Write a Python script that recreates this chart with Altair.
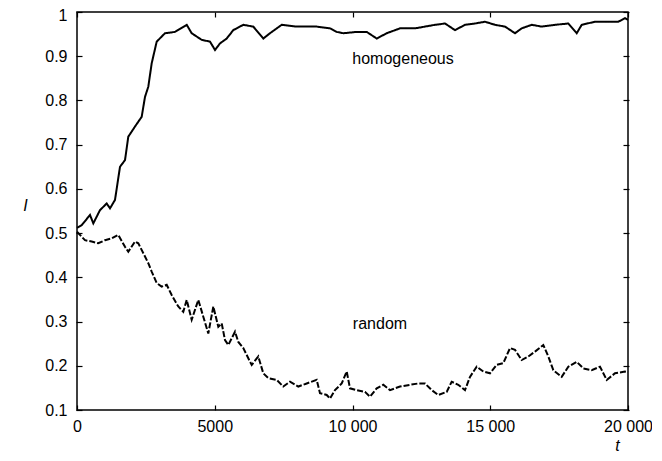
import altair as alt
import pandas as pd

# homogeneous series (t, I)
h_t = [0, 171, 472, 592, 835, 1078, 1198, 1379, 1561, 1742, 1862, 2105, 2348, 2468,
       2588, 2711, 2893, 3194, 3557, 3982, 4163, 4526, 4828, 5010, 5191, 5434, 5673,
       6036, 6399, 6762, 7006, 7430, 7975, 8701, 9183, 9427, 9666, 10153, 10516,
       10879, 11242, 11724, 12269, 12632, 12995, 13358, 13721, 14084, 14447, 14810,
       15173, 15535, 15898, 16142, 16505, 16868, 17350, 17833, 18138, 18320, 18802,
       19285, 19648, 19891, 20000]
h_I = [0.512, 0.518, 0.541, 0.522, 0.552, 0.567, 0.556, 0.575, 0.650, 0.665, 0.718,
       0.741, 0.763, 0.808, 0.831, 0.884, 0.933, 0.952, 0.955, 0.971, 0.952, 0.937,
       0.933, 0.914, 0.929, 0.940, 0.959, 0.971, 0.967, 0.940, 0.952, 0.971, 0.967,
       0.967, 0.963, 0.955, 0.952, 0.955, 0.955, 0.940, 0.952, 0.963, 0.963, 0.967,
       0.971, 0.974, 0.959, 0.971, 0.974, 0.978, 0.971, 0.967, 0.952, 0.963, 0.971,
       0.967, 0.971, 0.974, 0.952, 0.971, 0.978, 0.978, 0.978, 0.986, 0.982]

# random series (t, I)
r_t = [0, 290, 534, 773, 1016, 1260, 1499, 1742, 1862, 2105, 2225, 2468, 2588, 2711,
       2893, 3074, 3256, 3437, 3677, 3858, 3982, 4163, 4403, 4584, 4766, 4948, 5129,
       5252, 5372, 5492, 5735, 5855, 6036, 6218, 6341, 6581, 6762, 6944, 7249, 7488,
       7731, 8033, 8338, 8701, 8820, 9064, 9183, 9365, 9608, 9790, 9909, 10153, 10454,
       10635, 10879, 11118, 11361, 11724, 12087, 12389, 12632, 12875, 13114, 13419,
       13600, 13840, 14084, 14265, 14508, 14748, 14991, 15234, 15474, 15717, 15898,
       16142, 16381, 16625, 16926, 17108, 17289, 17594, 17833, 18138, 18380, 18682,
       18984, 19227, 19528, 19891, 20000]
r_I = [0.503, 0.484, 0.481, 0.477, 0.484, 0.488, 0.496, 0.469, 0.458, 0.481, 0.477,
       0.447, 0.432, 0.413, 0.387, 0.379, 0.383, 0.360, 0.334, 0.322, 0.349, 0.304,
       0.349, 0.311, 0.273, 0.334, 0.288, 0.296, 0.258, 0.247, 0.277, 0.254, 0.240,
       0.217, 0.202, 0.221, 0.183, 0.172, 0.168, 0.153, 0.164, 0.153, 0.160, 0.168,
       0.138, 0.134, 0.126, 0.145, 0.160, 0.187, 0.149, 0.145, 0.141, 0.130, 0.149,
       0.157, 0.145, 0.153, 0.157, 0.160, 0.160, 0.145, 0.134, 0.141, 0.164, 0.157,
       0.145, 0.175, 0.198, 0.187, 0.183, 0.202, 0.206, 0.240, 0.236, 0.213, 0.221,
       0.232, 0.247, 0.221, 0.190, 0.175, 0.198, 0.209, 0.194, 0.190, 0.198, 0.168,
       0.183, 0.187, 0.186]

label_text = ["homogeneous", "random"]
label_t = [11834, 10998]
label_I = [0.894, 0.294]

x_ticks = [0, 5000, 10000, 15000, 20000]
y_ticks = [0.1, 0.2, 0.3, 0.4, 0.5, 0.6, 0.7, 0.8, 0.9, 1.0]

df = pd.concat([
    pd.DataFrame({"t": h_t, "I": h_I, "series": "homogeneous"}),
    pd.DataFrame({"t": r_t, "I": r_I, "series": "random"}),
])
lab = pd.DataFrame({"text": label_text, "t": label_t, "I": label_I})

FONT = "Liberation Sans"
xscale = alt.Scale(domain=[0, 20000], nice=False, zero=False)
yscale = alt.Scale(domain=[0.1, 1.0], nice=False, zero=False)

lines = alt.Chart(df).mark_line(color="black", strokeWidth=2).encode(
    x=alt.X("t:Q", scale=xscale, axis=alt.Axis(
        orient="bottom", values=x_ticks, offset=-5, tickSize=5, domain=False,
        labelPadding=8, labelFlush=False, labelOverlap=False,
        labelExpr="datum.value < 10000 ? format(datum.value, 'd') : replace(format(datum.value, ','), ',', ' ')",
        title="t", titleFontStyle="italic", titleFontWeight="normal", titleFontSize=16,
        titleX=540, titleY=40, titleAlign="center", titleBaseline="middle",
    )),
    y=alt.Y("I:Q", scale=yscale, axis=alt.Axis(
        orient="left", values=y_ticks, offset=-5, tickSize=6, domain=False,
        labelPadding=9, labelFlush=False, labelOverlap=False, format=".1~f",
        labelOffset={"condition": {"test": "datum.value >= 0.99", "value": 3}, "value": 0},
        title="I", titleFontStyle="italic", titleFontWeight="normal", titleFontSize=16,
        titleAngle=0, titleX=-57, titleY=193, titleAlign="center", titleBaseline="middle",
    )),
    strokeDash=alt.StrokeDash("series:N", scale=alt.Scale(
        domain=["homogeneous", "random"], range=[[1, 0], [6, 2]]), legend=None),
    detail="series:N",
)

labels = alt.Chart(lab).mark_text(font=FONT, fontSize=16, color="black",
                                   align="center", baseline="middle").encode(
    x=alt.X("t:Q", scale=xscale, axis=alt.Axis(
        orient="top", values=x_ticks, offset=-5, tickSize=5, domain=False,
        labels=False, title=None)),
    y=alt.Y("I:Q", scale=yscale, axis=alt.Axis(
        orient="right", values=y_ticks, offset=-5, tickSize=6, domain=False,
        labels=False, title=None)),
    text="text:N",
)

chart = alt.layer(lines, labels).resolve_scale(x="independent", y="independent").properties(
    width=551, height=398,
    autosize=alt.AutoSizeParams(type="none"),
    padding={"left": 69, "top": 4, "right": 24, "bottom": 43},
).configure_view(stroke="black", strokeWidth=1.5).configure_axis(
    labelFont=FONT, labelFontSize=16, labelColor="black",
    titleFont=FONT, titleColor="black",
    tickColor="black", tickWidth=1.2, grid=False,
)

chart.save("out.html", embed_options={"renderer": "svg", "actions": False})
